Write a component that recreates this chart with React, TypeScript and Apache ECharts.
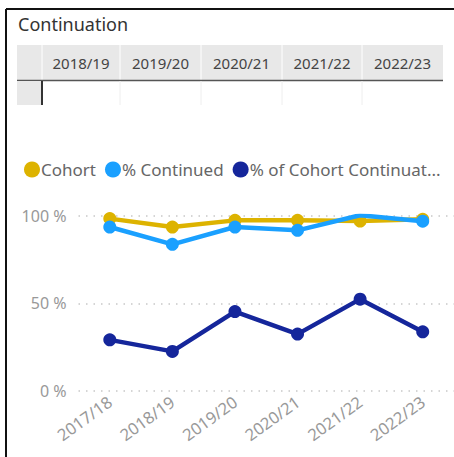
import React, { useEffect, useRef } from "react";
import * as echarts from "echarts";

const categories = ["2017/18", "2018/19", "2019/20", "2020/21", "2021/22", "2022/23"];
const cohort = [98.5, 93.7, 97.5, 97.5, 97.1, 98.1];
const continued = [93.7, 83.8, 93.7, 91.8, 100.4, 97.0];
const cohortContinuation = [29.1, 22.5, 45.3, 32.4, 52.4, 33.7];
const seriesNames = ["Cohort", "% Continued", "% of Cohort Continuation"];
const tableHeaders = ["2018/19", "2019/20", "2020/21", "2021/22", "2022/23"];
const colors = ["#DDB300", "#1AA0FF", "#15269B"];

export default function App() {
  const ref = useRef<HTMLDivElement>(null);
  useEffect(() => {
    if (!ref.current) return;
    const chart = echarts.init(ref.current, null, { renderer: "svg" });
    const font = "'Noto Sans', 'Open Sans', sans-serif";
    const colX = [17, 42, 120, 201, 282, 362, 443];
    const graphic: any[] = [];
    // border
    graphic.push({ type: "line", shape: { x1: 6, y1: 9, x2: 454, y2: 9 }, style: { stroke: "#111", lineWidth: 2 } });
    graphic.push({ type: "line", shape: { x1: 6, y1: 9, x2: 6, y2: 457 }, style: { stroke: "#111", lineWidth: 2 } });
    // title
    graphic.push({ type: "text", x: 18, y: 24, style: { text: "Continuation", font: "18px " + font, fill: "#333", verticalAlign: "middle" } });
    // header row
    graphic.push({ type: "rect", shape: { x: 17, y: 45, width: 426, height: 35 }, style: { fill: "#E8E8E8" } });
    for (let i = 1; i < colX.length - 1; i++) {
      graphic.push({ type: "line", shape: { x1: colX[i], y1: 45, x2: colX[i], y2: 80 }, style: { stroke: "#fff", lineWidth: 1 } });
    }
    tableHeaders.forEach((h, i) => {
      graphic.push({ type: "text", x: (colX[i + 1] + colX[i + 2]) / 2, y: 63, style: { text: h, font: "15px " + font, fill: "#444", align: "center", verticalAlign: "middle" } });
    });
    graphic.push({ type: "line", shape: { x1: 17, y1: 80.5, x2: 443, y2: 80.5 }, style: { stroke: "#555", lineWidth: 1.5 } });
    // second row
    graphic.push({ type: "rect", shape: { x: 17, y: 81, width: 25, height: 24 }, style: { fill: "#E8E8E8" } });
    graphic.push({ type: "line", shape: { x1: 42, y1: 81, x2: 42, y2: 105 }, style: { stroke: "#333", lineWidth: 2 } });
    for (let i = 2; i < colX.length - 1; i++) {
      graphic.push({ type: "line", shape: { x1: colX[i], y1: 81, x2: colX[i], y2: 105 }, style: { stroke: "#eee", lineWidth: 1 } });
    }

    const datasets = [cohort, continued, cohortContinuation];
    chart.setOption({
      animation: false,
      color: colors,
      textStyle: { fontFamily: font },
      graphic,
      legend: {
        left: 19,
        top: 156,
        icon: "circle",
        itemWidth: 16,
        itemHeight: 16,
        itemGap: 9,
        data: seriesNames,
        textStyle: { fontSize: 17, color: "#666", padding: [0, 0, 0, -4] },
        formatter: (n: string) => (n.length > 22 ? n.slice(0, 21) + "..." : n),
      },
      grid: { left: 78.5, right: -14.5, top: 216, bottom: 66.3 },
      xAxis: {
        type: "category",
        data: categories,
        axisLine: { show: false },
        axisTick: { show: false },
        axisLabel: { rotate: 36, fontSize: 16.5, color: "#999", margin: 9 },
      },
      yAxis: {
        type: "value",
        min: 0,
        max: 100,
        interval: 50,
        axisLabel: { formatter: "{value} %", fontSize: 16, color: "#999", margin: 12 },
        splitLine: { lineStyle: { type: [1.5, 6], color: "#C8C8C8", width: 1.5 } },
      },
      series: datasets.map((d, i) => ({
        name: seriesNames[i],
        type: "line",
        data: d,
        symbol: "circle",
        symbolSize: 13,
        lineStyle: { width: 4.5 },
        z: 2 + i,
      })),
    });
    return () => chart.dispose();
  }, []);
  return <div ref={ref} style={{ position: "fixed", left: 0, top: 0, width: 454, height: 457, background: "#fff" }} />;
}
